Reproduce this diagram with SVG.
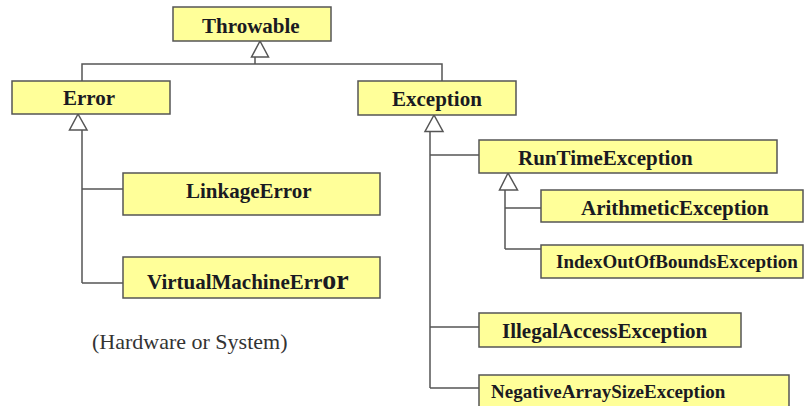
<svg xmlns="http://www.w3.org/2000/svg" width="804" height="406" viewBox="0 0 804 406">
<style>
.box{fill:#ffff99;stroke:#555;stroke-width:1.5}
.lbl{font-family:"Liberation Serif","Times New Roman",serif;font-weight:bold;font-size:21px;fill:#1a1a22}
.sm{font-size:19px}
.ln{stroke:#555;stroke-width:1.5;fill:none}
.tri{fill:#fff;stroke:#555;stroke-width:1.5}
.note{font-family:"Liberation Serif","Times New Roman",serif;font-size:22px;fill:#333}
</style>
<rect width="804" height="406" fill="#fff"/>
<g id="connectors">
<line class="ln" x1="255" y1="57" x2="255" y2="64"/>
<polyline class="ln" points="82,81 82,64 442,64 442,81"/>
<line class="ln" x1="82" y1="130" x2="82" y2="283"/>
<line class="ln" x1="82" y1="189" x2="123" y2="189"/>
<line class="ln" x1="82" y1="283" x2="123" y2="283"/>
<line class="ln" x1="430" y1="131" x2="430" y2="388"/>
<line class="ln" x1="430" y1="155" x2="479" y2="155"/>
<line class="ln" x1="430" y1="327" x2="479" y2="327"/>
<line class="ln" x1="430" y1="388" x2="479" y2="388"/>
<line class="ln" x1="505" y1="190" x2="505" y2="249"/>
<line class="ln" x1="505" y1="208" x2="541" y2="208"/>
<line class="ln" x1="505" y1="249" x2="541" y2="249"/>
<polygon class="tri" points="260,41 251.5,57 268.5,57"/>
<polygon class="tri" points="78,114 69.5,130 87,130"/>
<polygon class="tri" points="434,115 425,131.5 443,131.5"/>
<polygon class="tri" points="508,173 499.5,190 517.5,190"/>
</g>
<g id="throwable"><rect class="box" x="173" y="7" width="158" height="34"/><text class="lbl" x="202" y="33">Throwable</text></g>
<g id="error"><rect class="box" x="12" y="81" width="158" height="33"/><text class="lbl" x="63" y="105">Error</text></g>
<g id="exception"><rect class="box" x="358" y="81" width="158" height="34"/><text class="lbl" x="392" y="106">Exception</text></g>
<g id="linkageerror"><rect class="box" x="123" y="173" width="257" height="42"/><text class="lbl" x="186" y="198">LinkageError</text></g>
<g id="virtualmachineerror"><rect class="box" x="123" y="257" width="257" height="41"/><text class="lbl" x="147" y="289">VirtualMachineErr<tspan style="font-size:28px">or</tspan></text></g>
<g id="runtimeexception"><rect class="box" x="479" y="140" width="298" height="33"/><text class="lbl" x="518" y="165">RunTimeException</text></g>
<g id="arithmeticexception"><rect class="box" x="541" y="190" width="262" height="32"/><text class="lbl" x="581" y="215">ArithmeticException</text></g>
<g id="indexoutofboundsexception"><rect class="box" x="541" y="245" width="262" height="33"/><text class="lbl sm" x="556" y="268">IndexOutOfBoundsException</text></g>
<g id="illegalaccessexception"><rect class="box" x="479" y="313" width="262" height="34"/><text class="lbl" x="502" y="338">IllegalAccessException</text></g>
<g id="negativearraysizeexception"><rect class="box" x="479" y="375" width="310" height="40"/><text class="lbl sm" x="491" y="398">NegativeArraySizeException</text></g>
<text class="note" x="92" y="349">(Hardware or System)</text>
</svg>
